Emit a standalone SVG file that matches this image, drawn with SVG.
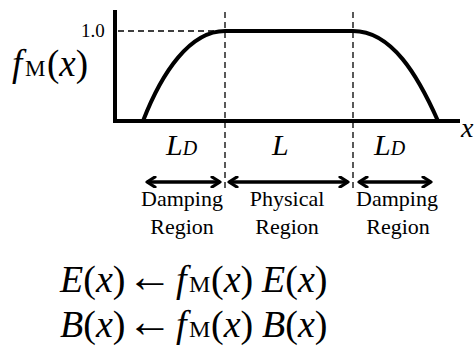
<svg xmlns="http://www.w3.org/2000/svg" width="475" height="348" viewBox="0 0 475 348">
<defs>
<style>
text{font-family:'Liberation Serif','Times New Roman','DejaVu Serif',serif;fill:#000}
.i{font-style:italic}
.ax{stroke:#000;stroke-width:4;fill:none}
.dash{stroke:#000;stroke-width:1.3;stroke-dasharray:6,4;fill:none}
.arr{stroke:#000;stroke-width:3.5;fill:none;marker-start:url(#h);marker-end:url(#h)}
</style>
<marker id="h" viewBox="0 0 12 12" refX="10" refY="6" markerWidth="12" markerHeight="12" markerUnits="userSpaceOnUse" orient="auto-start-reverse">
<path d="M2,1 L10,6 L2,11" fill="none" stroke="#000" stroke-width="3.2" stroke-linecap="round" stroke-linejoin="round"/>
</marker>
</defs>
<rect width="475" height="348" fill="#fff"/>
<g id="axes">
<line class="ax" x1="115" y1="10" x2="115" y2="123"/>
<line class="ax" x1="113" y1="121" x2="460" y2="121"/>
<text class="i" x="461" y="137" font-size="28">x</text>
</g>
<g id="guides">
<line class="dash" x1="118" y1="31" x2="225" y2="31"/>
<line class="dash" x1="225" y1="12" x2="225" y2="190"/>
<line class="dash" x1="353" y1="12" x2="353" y2="190"/>
<text x="81" y="37" font-size="19">1.0</text>
</g>
<g id="curve">
<path class="ax" d="M143,121 C162,72 190,31 225,31 L353,31 C392,31 418,76 438,121"/>
</g>
<g id="ylabel">
<text x="12" y="76" font-size="37"><tspan class="i">f</tspan><tspan x="25" font-size="23">M</tspan><tspan x="47">(</tspan><tspan class="i">x</tspan>)</text>
</g>
<g id="connectors">
<line class="arr" x1="147" y1="182" x2="220" y2="182"/>
<line class="arr" x1="229" y1="182" x2="348" y2="182"/>
<line class="arr" x1="359" y1="182" x2="431" y2="182"/>
</g>
<g id="damping-left">
<text class="i" x="166" y="155" font-size="30">L<tspan font-size="20">D</tspan></text>
<text x="182" y="206" font-size="22" text-anchor="middle">Damping</text>
<text x="182" y="234" font-size="22" text-anchor="middle">Region</text>
</g>
<g id="physical">
<text class="i" x="272" y="155" font-size="30">L</text>
<text x="287" y="206" font-size="22" text-anchor="middle">Physical</text>
<text x="287" y="234" font-size="22" text-anchor="middle">Region</text>
</g>
<g id="damping-right">
<text class="i" x="374" y="155" font-size="30">L<tspan font-size="20">D</tspan></text>
<text x="397" y="206" font-size="22" text-anchor="middle">Damping</text>
<text x="398" y="234" font-size="22" text-anchor="middle">Region</text>
</g>
<g id="equations">
<text y="292" font-size="38"><tspan x="60" class="i">E</tspan>(<tspan class="i">x</tspan>)<tspan x="127" font-size="46">←</tspan><tspan x="176" class="i">f</tspan><tspan x="189" font-size="24">M</tspan><tspan x="211">(</tspan><tspan class="i">x</tspan>)<tspan x="262" class="i">E</tspan>(<tspan class="i">x</tspan>)</text>
<text y="337" font-size="38"><tspan x="60" class="i">B</tspan>(<tspan class="i">x</tspan>)<tspan x="127" font-size="46">←</tspan><tspan x="176" class="i">f</tspan><tspan x="189" font-size="24">M</tspan><tspan x="211">(</tspan><tspan class="i">x</tspan>)<tspan x="262" class="i">B</tspan>(<tspan class="i">x</tspan>)</text>
</g>
</svg>
